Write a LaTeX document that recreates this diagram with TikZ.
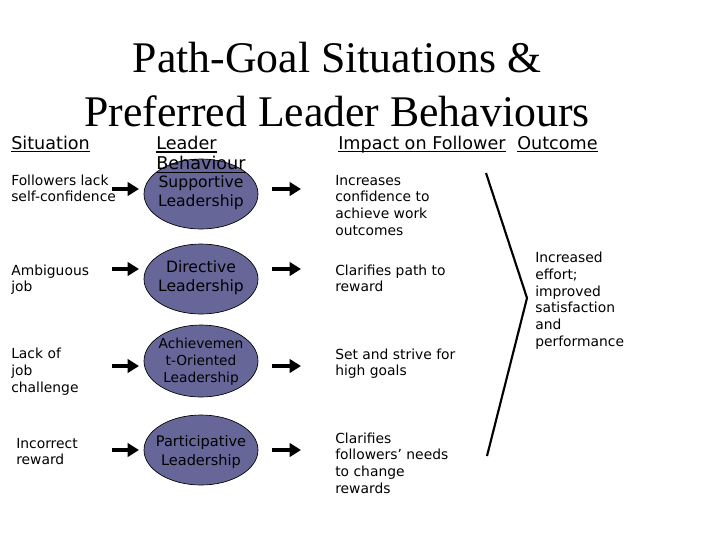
\documentclass[tikz,border=0pt]{standalone}
\usepackage{fontspec}
\setmainfont{DejaVu Sans}
\newfontfamily\titlefont{Liberation Serif}
\newcommand\myul[1]{\setbox0\hbox{#1}\rlap{\rule[-2.6pt]{\wd0}{0.8pt}}\box0}
\usetikzlibrary{shapes.geometric,arrows.meta}
\definecolor{ellfill}{HTML}{666699}
\tikzset{
  body/.style={anchor=base west, align=left, inner sep=0pt, font=\fontsize{10.4pt}{12.5pt}\selectfont},
  head/.style={anchor=base west, align=left, inner sep=0pt, font=\fontsize{13.2pt}{15.5pt}\selectfont},
  leader/.style={ellipse, draw=black, line width=0.5pt, fill=ellfill, minimum width=85.5pt, minimum height=52.5pt, inner sep=0pt},
  intext/.style={align=center, inner sep=0pt, font=\fontsize{11.7pt}{14.3pt}\selectfont},
  fat/.style={line width=3pt, -{Triangle[length=8.5pt,width=10pt]}},
}
\begin{document}
\begin{tikzpicture}[x=0.75pt,y=-0.75pt]
\path[use as bounding box] (0,0) rectangle (720,540);
% title (anchor = baseline of last line)
\node[align=center, inner sep=0pt, anchor=base, font=\titlefont\fontsize{32.8pt}{40pt}\selectfont] (title) at (337,126.3) {Path-Goal Situations \&\\Preferred Leader Behaviours};
% ellipses
\node[leader] (e1) at (201,194) {};
\node[intext] (t1) at (201,193) {Supportive\\Leadership};
\node[leader] (e2) at (201,279) {};
\node[intext] (t2) at (201,278) {Directive\\Leadership};
\node[leader, minimum height=54pt] (e3) at (201,361) {};
\node[intext, font=\fontsize{10.3pt}{12.8pt}\selectfont] (t3) at (201,362) {Achievemen\\t-Oriented\\Leadership};
\node[leader] (e4) at (201,450) {};
\node[intext, font=\fontsize{10.9pt}{14.3pt}\selectfont] (t4) at (201,452) {Participative\\Leadership};
% headers
\node[head] (hsit) at (11,149) {\myul{Situation}};
\node[head] (hlead) at (156,169.7) {\myul{Leader}\\\myul{Behaviour}};
\node[head] (himp) at (338,149) {\myul{Impact on Follower}};
\node[head] (hout) at (517,149) {\myul{Outcome}};
% situations
\node[body] (s1) at (11,201.7) {Followers lack\\self-confidence};
\node[body] (s2) at (11,291.7) {Ambiguous\\job};
\node[body] (s3) at (11,392.3) {Lack of\\job\\challenge};
\node[body] (s4) at (16,464.7) {Incorrect\\reward};
% impacts
\node[body] (i1) at (335,235) {Increases\\confidence to\\achieve work\\outcomes};
\node[body] (i2) at (335,291.7) {Clarifies path to\\reward};
\node[body] (i3) at (335,375.7) {Set and strive for\\high goals};
\node[body] (i4) at (335,493) {Clarifies\\followers’ needs\\to change\\rewards};
% outcome
\node[body] (o) at (535,346.3) {Increased\\effort;\\improved\\satisfaction\\and\\performance};
% arrows
\coordinate (a1l) at (112,189); \coordinate (a1r) at (272,189);
\coordinate (a2l) at (112,269); \coordinate (a2r) at (272,269);
\coordinate (a3l) at (112,366); \coordinate (a3r) at (272,366);
\coordinate (a4l) at (112,450); \coordinate (a4r) at (272,450);
\draw[fat] (a1l) -- ++(27,0);
\draw[fat] (a1r) -- ++(29,0);
\draw[fat] (a2l) -- ++(27,0);
\draw[fat] (a2r) -- ++(29,0);
\draw[fat] (a3l) -- ++(27,0);
\draw[fat] (a3r) -- ++(29,0);
\draw[fat] (a4l) -- ++(27,0);
\draw[fat] (a4r) -- ++(29,0);
% bracket
\coordinate (bt) at (486,173);
\coordinate (bm) at (527,298);
\coordinate (bb) at (487,456);
\draw[line width=1.6pt] (bt) -- (bm) -- (bb);
\end{tikzpicture}
\end{document}
